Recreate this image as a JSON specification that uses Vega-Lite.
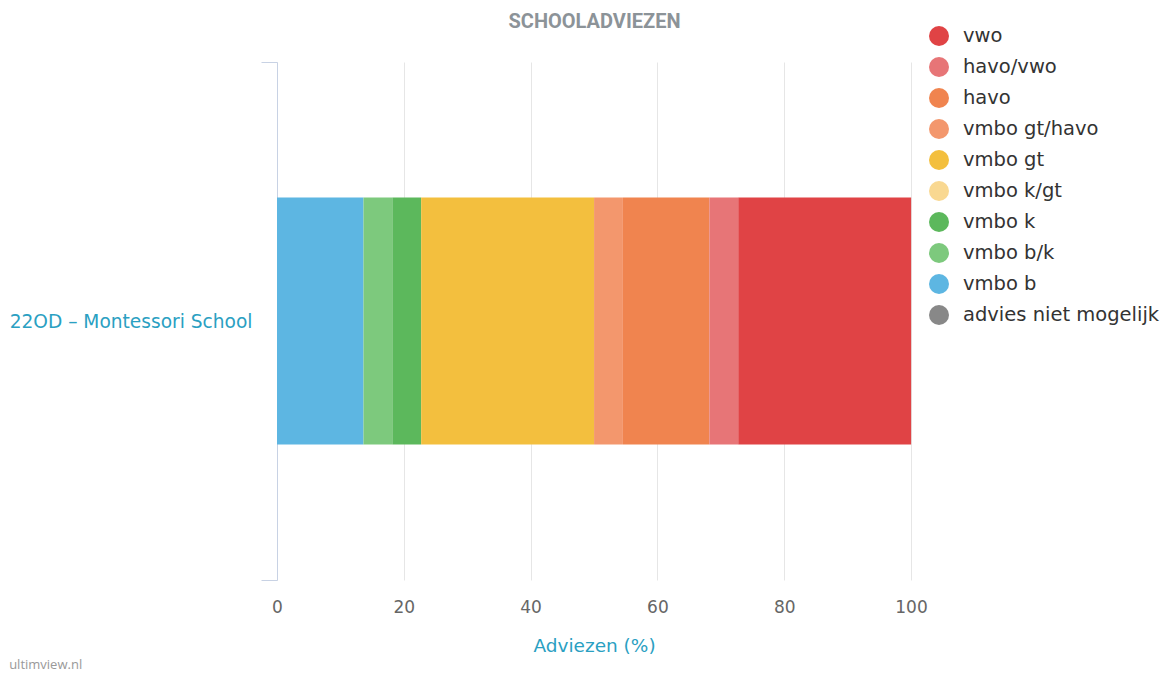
{
  "$schema": "https://vega.github.io/schema/vega-lite/v6.json",
  "width": 634,
  "height": 518,
  "autosize": {"type": "none"},
  "padding": {"left": 277, "top": 62, "right": 265, "bottom": 94},
  "background": "#ffffff",
  "title": {
    "text": "ultimview.nl",
    "orient": "bottom",
    "anchor": "start",
    "frame": "bounds",
    "font": "Open Sans",
    "fontSize": 13,
    "fontWeight": "normal",
    "color": "#999999",
    "offset": 4
  },
  "data": {
    "values": [
      {"school": "22OD – Montessori School", "advies": "vmbo b", "pct": 13.64, "rang": 1},
      {"school": "22OD – Montessori School", "advies": "vmbo b/k", "pct": 4.55, "rang": 2},
      {"school": "22OD – Montessori School", "advies": "vmbo k", "pct": 4.55, "rang": 3},
      {"school": "22OD – Montessori School", "advies": "vmbo gt", "pct": 27.27, "rang": 5},
      {"school": "22OD – Montessori School", "advies": "vmbo gt/havo", "pct": 4.55, "rang": 6},
      {"school": "22OD – Montessori School", "advies": "havo", "pct": 13.64, "rang": 7},
      {"school": "22OD – Montessori School", "advies": "havo/vwo", "pct": 4.55, "rang": 8},
      {"school": "22OD – Montessori School", "advies": "vwo", "pct": 27.27, "rang": 9}
    ]
  },
  "layer": [
    {
      "mark": {"type": "bar", "size": 247},
      "encoding": {
        "y": {
          "field": "school",
          "type": "nominal",
          "scale": {"paddingInner": 0, "paddingOuter": 0},
          "axis": {
            "title": null,
            "tickBand": "extent",
            "tickSize": 16,
            "tickColor": "#c8d2e4",
            "domainColor": "#c8d2e4",
            "labelColor": "#2aa0c2",
            "labelFont": "DejaVu Sans",
            "labelFontSize": 18.6,
            "labelPadding": 9,
            "labelLimit": 300,
            "grid": false
          }
        },
        "x": {
          "field": "pct",
          "type": "quantitative",
          "stack": "zero",
          "scale": {"domain": [0, 100]},
          "axis": {
            "values": [0, 20, 40, 60, 80, 100],
            "grid": true,
            "gridColor": "#e6e6e6",
            "domain": false,
            "ticks": false,
            "labelFlush": false,
            "labelColor": "#666666",
            "labelFont": "DejaVu Sans",
            "labelFontSize": 17,
            "labelPadding": 19,
            "title": "Adviezen (%)",
            "titleColor": "#2aa0c2",
            "titleFont": "DejaVu Sans",
            "titleFontSize": 18.5,
            "titleFontWeight": "normal",
            "titlePadding": 21
          }
        },
        "color": {
          "field": "advies",
          "type": "nominal",
          "scale": {
            "domain": ["vwo", "havo/vwo", "havo", "vmbo gt/havo", "vmbo gt", "vmbo k/gt", "vmbo k", "vmbo b/k", "vmbo b", "advies niet mogelijk"],
            "range": ["#e04345", "#e77577", "#f0844f", "#f3976d", "#f3bf3e", "#f9d891", "#5cb85c", "#7dc97d", "#5db6e2", "#888888"]
          },
          "legend": {
            "title": null,
            "orient": "none",
            "legendX": 652,
            "legendY": -36,
            "padding": 0,
            "symbolType": "circle",
            "symbolSize": 400,
            "symbolStrokeWidth": 0,
            "symbolOpacity": 1,
            "rowPadding": 11,
            "labelOffset": 14,
            "labelFont": "DejaVu Sans",
            "labelFontSize": 19.5,
            "labelColor": "#333333",
            "labelLimit": 300
          }
        },
        "order": {"field": "rang", "type": "quantitative"}
      }
    },
    {
      "mark": {"type": "bar", "opacity": 0},
      "encoding": {
        "x": {
          "field": "pct",
          "type": "quantitative",
          "axis": {
            "orient": "top",
            "title": "SCHOOLADVIEZEN",
            "labels": false,
            "ticks": false,
            "domain": false,
            "grid": false,
            "titleFont": "Roboto",
            "titleFontSize": 20,
            "titleFontWeight": "bold",
            "titleColor": "#8c9398",
            "titlePadding": 31
          }
        }
      }
    }
  ],
  "resolve": {"axis": {"x": "independent"}},
  "config": {"view": {"stroke": null}}
}
